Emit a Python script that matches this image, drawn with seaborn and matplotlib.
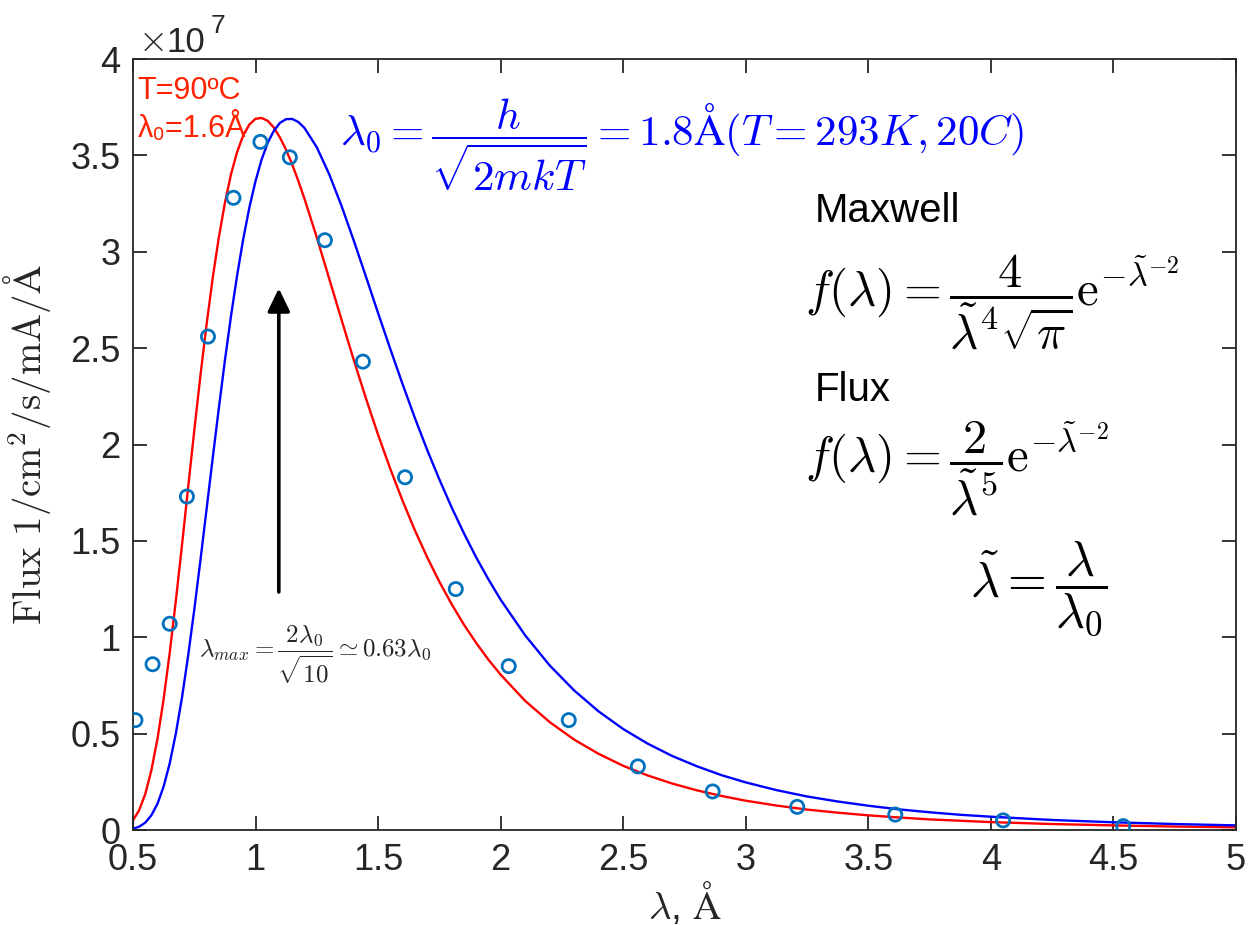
import numpy as np
import pandas as pd
import matplotlib
matplotlib.use("Agg")
import matplotlib.pyplot as plt
import seaborn as sns
from matplotlib.ticker import FuncFormatter

# wavelength grid (Angstrom) at which the two model curves were read
lam_curve = [0.5, 0.525, 0.55, 0.575, 0.6, 0.625, 0.65, 0.675, 0.7, 0.725, 0.75,
             0.775, 0.8, 0.825, 0.85, 0.875, 0.9, 0.925, 0.95, 0.975, 1.0, 1.025,
             1.05, 1.075, 1.1, 1.125, 1.15, 1.175, 1.2, 1.25, 1.3, 1.35, 1.4, 1.45,
             1.5, 1.55, 1.6, 1.65, 1.7, 1.75, 1.8, 1.85, 1.9, 1.95, 2.0, 2.1, 2.2,
             2.3, 2.4, 2.5, 2.6, 2.7, 2.8, 2.9, 3.0, 3.125, 3.25, 3.375, 3.5, 3.625,
             3.75, 3.875, 4.0, 4.25, 4.5, 4.75, 5.0]
# red model curve (T = 90 C, lambda0 = 1.6 A), flux in units of 1e7
flux_red = [0.050, 0.102, 0.186, 0.309, 0.473, 0.678, 0.920, 1.190, 1.478, 1.776,
            2.071, 2.355, 2.620, 2.861, 3.072, 3.253, 3.402, 3.518, 3.604, 3.660,
            3.690, 3.694, 3.679, 3.644, 3.592, 3.528, 3.452, 3.366, 3.274, 3.074,
            2.863, 2.651, 2.442, 2.241, 2.051, 1.873, 1.708, 1.555, 1.416, 1.288,
            1.172, 1.066, 0.971, 0.884, 0.806, 0.670, 0.560, 0.469, 0.395, 0.333,
            0.283, 0.241, 0.206, 0.177, 0.152, 0.127, 0.106, 0.090, 0.076, 0.065,
            0.055, 0.048, 0.041, 0.031, 0.024, 0.018, 0.014]
# blue model curve (T = 293 K, lambda0 = 1.8 A), flux in units of 1e7
flux_blue = [0.007, 0.017, 0.038, 0.076, 0.136, 0.225, 0.346, 0.501, 0.687, 0.903,
             1.142, 1.397, 1.661, 1.926, 2.185, 2.435, 2.667, 2.878, 3.067, 3.230,
             3.367, 3.479, 3.566, 3.628, 3.669, 3.688, 3.689, 3.673, 3.642, 3.542,
             3.404, 3.241, 3.061, 2.873, 2.682, 2.495, 2.313, 2.138, 1.973, 1.819,
             1.674, 1.540, 1.415, 1.301, 1.195, 1.010, 0.854, 0.724, 0.615, 0.524,
             0.448, 0.384, 0.331, 0.285, 0.247, 0.207, 0.174, 0.148, 0.126, 0.107,
             0.092, 0.079, 0.069, 0.052, 0.040, 0.031, 0.024]
# measured points
lam_meas = [0.51, 0.58, 0.65, 0.72, 0.806, 0.91, 1.02, 1.14, 1.283, 1.438, 1.61,
            1.817, 2.033, 2.278, 2.56, 2.865, 3.21, 3.61, 4.05, 4.54]
flux_meas = [0.57, 0.86, 1.07, 1.73, 2.56, 3.28, 3.57, 3.49, 3.06, 2.43, 1.83,
             1.25, 0.85, 0.57, 0.33, 0.20, 0.12, 0.08, 0.05, 0.02]

x_ticks = [0.5, 1, 1.5, 2, 2.5, 3, 3.5, 4, 4.5, 5]
y_ticks = [0, 0.5, 1, 1.5, 2, 2.5, 3, 3.5, 4]

sns.set_theme(style="ticks")
plt.rcParams["font.family"] = ["Liberation Sans", "DejaVu Sans"]
plt.rcParams["mathtext.fontset"] = "cm"

DARK = "#262626"
fig = plt.figure(figsize=(12.52, 9.25), dpi=100)
ax = fig.add_axes([0.1062, 0.1027, 0.8810, 0.8335])

df_red = pd.DataFrame({"lam": lam_curve, "flux": flux_red})
df_blue = pd.DataFrame({"lam": lam_curve, "flux": flux_blue})
df_meas = pd.DataFrame({"lam": lam_meas, "flux": flux_meas})

sns.lineplot(data=df_red, x="lam", y="flux", color="#ff0000", lw=1.7, ax=ax, sort=False)
sns.lineplot(data=df_blue, x="lam", y="flux", color="#0000ff", lw=1.7, ax=ax, sort=False)
sns.scatterplot(data=df_meas, x="lam", y="flux", marker="o", s=90, ax=ax,
                color="#0072BD", linewidth=2, zorder=5)
coll = ax.collections[-1]
coll.set_facecolor("none")
coll.set_edgecolor("#0072BD")
coll.set_linewidth(2)

ax.set_xlim(0.5, 5)
ax.set_ylim(0, 4)
ax.set_xticks(x_ticks)
ax.set_yticks(y_ticks)
fmt = FuncFormatter(lambda v, p: f"{v:g}")
ax.xaxis.set_major_formatter(fmt)
ax.yaxis.set_major_formatter(fmt)
ax.tick_params(direction="in", top=True, right=True, length=10, width=1.3,
               colors=DARK, labelsize=26, pad=9)
for s in ax.spines.values():
    s.set_visible(True)
    s.set_color(DARK)
    s.set_linewidth(1.3)

ax.set_xlabel(r"$\lambda$, $\mathrm{\AA}$", fontsize=28, color=DARK, labelpad=2)
ax.set_ylabel(r"$\mathrm{Flux}\ 1/\mathrm{cm}^2/\mathrm{s}/\mathrm{mA}/\mathrm{\AA}$",
              fontsize=28, color=DARK, labelpad=12)

# exponent label
ax.text(0.0045, 1.011, r"$\times$", transform=ax.transAxes, fontsize=27, color=DARK,
        ha="left", va="baseline")
ax.text(0.0305, 1.009, "10", transform=ax.transAxes, fontsize=25, color=DARK,
        ha="left", va="baseline")
ax.text(0.0700, 1.034, "7", transform=ax.transAxes, fontsize=19, color=DARK,
        ha="left", va="baseline")

# red annotation
ax.text(0.004, 0.948, "T=90ºC", transform=ax.transAxes, fontsize=22,
        color="#ff2200", ha="left", va="baseline")
ax.text(0.004, 0.899, "λ₀=1.6Å", transform=ax.transAxes, fontsize=22,
        color="#ff2200", ha="left", va="baseline")

# blue formula
ax.text(0.188, 0.889,
        r"$\lambda_0 = \dfrac{h}{\sqrt{2mkT}} = 1.8\mathrm{\AA}(T = 293K, 20C)$",
        transform=ax.transAxes, fontsize=31, color="#0000ff", ha="left", va="center")

# right-hand texts
ax.text(0.618, 0.803, "Maxwell", transform=ax.transAxes, fontsize=29, color="black",
        ha="left", va="center")
ax.text(0.609, 0.685,
        r"$f(\lambda) = \dfrac{4}{\tilde{\lambda}^4\sqrt{\pi}}\mathrm{e}^{-\tilde{\lambda}^{-2}}$",
        transform=ax.transAxes, fontsize=35, color="black", ha="left", va="center")
ax.text(0.618, 0.571, "Flux", transform=ax.transAxes, fontsize=29, color="black",
        ha="left", va="center")
ax.text(0.609, 0.470,
        r"$f(\lambda) = \dfrac{2}{\tilde{\lambda}^5}\mathrm{e}^{-\tilde{\lambda}^{-2}}$",
        transform=ax.transAxes, fontsize=35, color="black", ha="left", va="center")
ax.text(0.759, 0.314, r"$\tilde{\lambda} = \dfrac{\lambda}{\lambda_0}$",
        transform=ax.transAxes, fontsize=36, color="black", ha="left", va="center")

# lambda_max annotation and arrow
ax.text(0.060, 0.227, r"$\lambda_{max} = \dfrac{2\lambda_0}{\sqrt{10}} \simeq 0.63\lambda_0$",
        transform=ax.transAxes, fontsize=18, color=DARK, ha="left", va="center")
ax.annotate("", xy=(1.095, 2.81), xytext=(1.095, 1.235),
            arrowprops=dict(arrowstyle="-|>,head_length=0.7,head_width=0.34",
                            mutation_scale=20, lw=2.6, color="black",
                            shrinkA=0, shrinkB=0))

fig.savefig("out.png", dpi=100)
